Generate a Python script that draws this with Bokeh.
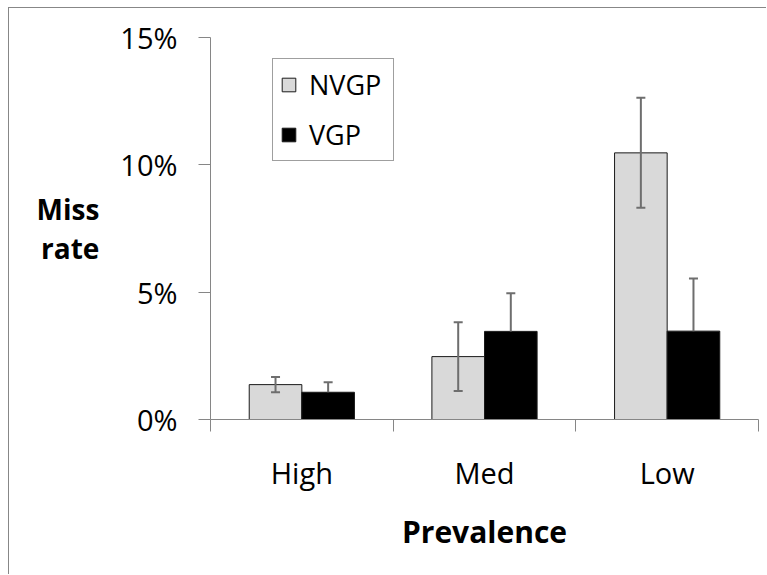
from bokeh.plotting import figure
from bokeh.models import (ColumnDataSource, Range1d, FixedTicker, Whisker, TeeHead,
                          Legend)
from bokeh.embed import file_html
from bokeh.resources import INLINE

# ---- data ----
categories = ["High", "Med", "Low"]
nvgp = [1.37, 2.47, 10.47]
nvgp_err = [0.30, 1.35, 2.16]
vgp = [1.07, 3.46, 3.47]
vgp_err = [0.39, 1.50, 2.07]
y_ticks = [0, 5, 10, 15]
y_tick_labels = ["0%", "5%", "10%", "15%"]

FONT = "Open Sans"
AXIS_COLOR = "#868686"
ERR_COLOR = "#6e6e6e"
BW = 0.288

xc = [i + 0.5 for i in range(len(categories))]
src_n = ColumnDataSource(dict(
    x=[c - BW / 2 for c in xc], top=nvgp,
    upper=[v + e for v, e in zip(nvgp, nvgp_err)],
    lower=[v - e for v, e in zip(nvgp, nvgp_err)]))
src_v = ColumnDataSource(dict(
    x=[c + BW / 2 for c in xc], top=vgp,
    upper=[v + e for v, e in zip(vgp, vgp_err)],
    lower=vgp))

p = figure(width=758, height=567, output_backend="svg", toolbar_location=None,
           x_range=Range1d(0, len(categories)), y_range=Range1d(0, 15),
           min_border_left=201, min_border_right=9, min_border_top=29,
           min_border_bottom=156)
p.styles = {"margin-left": "8px", "margin-top": "7px",
            "border-top": "1px solid #878787", "border-left": "1px solid #878787"}
p.outline_line_color = None
p.xgrid.visible = False
p.ygrid.visible = False
p.background_fill_color = "white"
p.border_fill_color = "white"

r_n = p.vbar(x="x", top="top", width=BW, bottom=0, source=src_n,
             fill_color="#d9d9d9", line_color="#1a1a1a", line_width=1)
r_v = p.vbar(x="x", top="top", width=BW, bottom=0, source=src_v,
             fill_color="#000000", line_color="#1a1a1a", line_width=1)

w_n = Whisker(source=src_n, base="x", upper="upper", lower="lower", dimension="height",
              line_color=ERR_COLOR, line_width=2, level="annotation",
              upper_head=TeeHead(size=9, line_color=ERR_COLOR, line_width=2),
              lower_head=TeeHead(size=9, line_color=ERR_COLOR, line_width=2))
w_v = Whisker(source=src_v, base="x", upper="upper", lower="lower", dimension="height",
              line_color=ERR_COLOR, line_width=2, level="annotation",
              upper_head=TeeHead(size=9, line_color=ERR_COLOR, line_width=2),
              lower_head=None)
p.add_layout(w_n)
p.add_layout(w_v)

# x axis
xa = p.xaxis[0]
xa.ticker = FixedTicker(ticks=xc, minor_ticks=[0, 1, 2, 3])
xa.major_label_overrides = {c: lab for c, lab in zip(xc, categories)}
xa.major_tick_line_color = None
xa.major_tick_out = 0
xa.major_tick_in = 0
xa.minor_tick_line_color = AXIS_COLOR
xa.minor_tick_out = 12
xa.minor_tick_in = 0
xa.axis_line_color = AXIS_COLOR
xa.major_label_text_font = FONT
xa.major_label_text_font_size = "29px"
xa.major_label_text_color = "black"
xa.major_label_standoff = 21
xa.axis_label = "Prevalence"
xa.axis_label_text_font = FONT
xa.axis_label_text_font_size = "30px"
xa.axis_label_text_font_style = "bold"
xa.axis_label_text_color = "black"
xa.axis_label_standoff = 16

# y axis
ya = p.yaxis[0]
ya.ticker = FixedTicker(ticks=y_ticks, minor_ticks=[])
ya.major_label_overrides = {t: lab for t, lab in zip(y_ticks, y_tick_labels)}
ya.major_tick_line_color = AXIS_COLOR
ya.major_tick_out = 12
ya.major_tick_in = 0
ya.minor_tick_line_color = None
ya.axis_line_color = AXIS_COLOR
ya.major_label_text_font = FONT
ya.major_label_text_font_size = "29px"
ya.major_label_text_color = "black"
ya.major_label_standoff = 21
ya.axis_label = "Miss\nrate"
ya.axis_label_orientation = "horizontal"
ya.axis_label_text_font = FONT
ya.axis_label_text_font_size = "28px"
ya.axis_label_text_font_style = "bold"
ya.axis_label_text_color = "black"
ya.axis_label_text_line_height = 1.02
ya.axis_label_text_align = "center"
ya.axis_label_standoff = 18

legend = Legend(items=[("NVGP", [r_n]), ("VGP", [r_v])], location=(62, 258),
                orientation="vertical", label_text_font=FONT,
                label_text_font_size="27px", label_text_color="black",
                glyph_width=17, glyph_height=17, label_height=32, label_width=77,
                label_standoff=12, spacing=13, padding=7, margin=0,
                border_line_color="#404040", border_line_width=1,
                background_fill_color="white", background_fill_alpha=1)
p.add_layout(legend, "center")

open("out.html", "w").write(file_html(p, INLINE))
